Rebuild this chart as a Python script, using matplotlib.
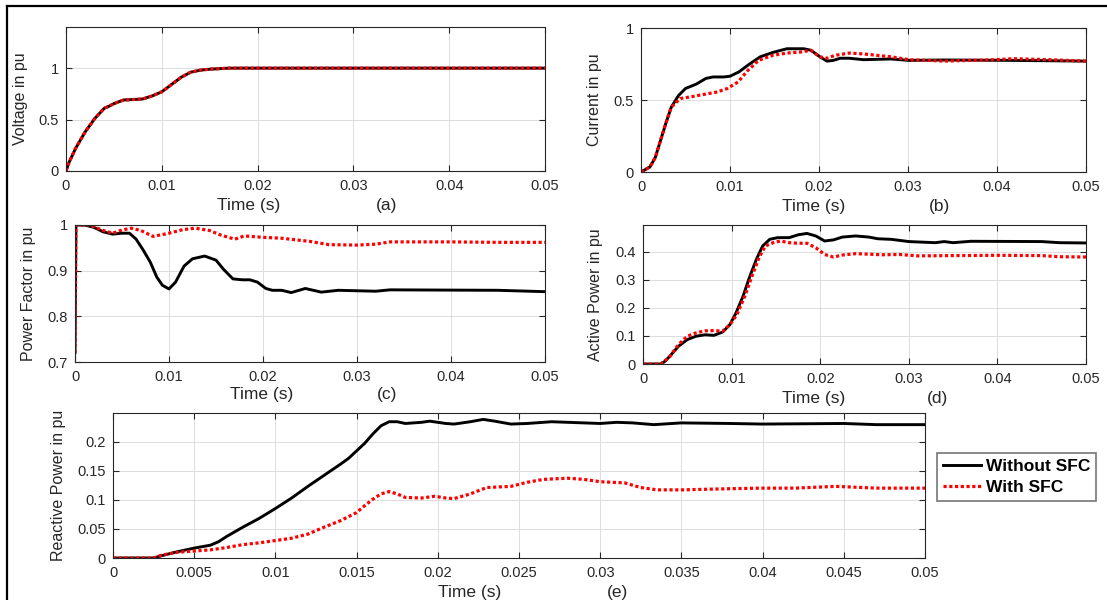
import numpy as np
import matplotlib
matplotlib.use('Agg')
import matplotlib.pyplot as plt
from matplotlib.lines import Line2D

plt.rcParams['font.family'] = ['Liberation Sans', 'DejaVu Sans']

# -- (a) voltage (both cases identical)
t_v = [0, 0.0003, 0.001, 0.002, 0.003, 0.004, 0.0045, 0.005, 0.006, 0.007, 0.008,
       0.009, 0.010, 0.011, 0.012, 0.013, 0.014, 0.015, 0.017, 0.02, 0.03, 0.04, 0.05]
v_wo = [0, 0.08, 0.22, 0.38, 0.51, 0.61, 0.63, 0.655, 0.69, 0.695, 0.70,
        0.73, 0.77, 0.84, 0.91, 0.96, 0.98, 0.99, 1.0, 1.0, 1.0, 1.0, 1.0]
v_w = v_wo

# -- (b) current
t_i_wo = [0, 0.001, 0.0016, 0.0022, 0.0028, 0.0034, 0.0042, 0.005, 0.0062, 0.0073, 0.0081,
          0.0093, 0.010, 0.011, 0.0122, 0.0134, 0.0148, 0.0164, 0.0183, 0.0191, 0.0201,
          0.0209, 0.0216, 0.0224, 0.0234, 0.025, 0.0281, 0.0301, 0.034, 0.0418, 0.05]
i_wo = [0, 0.035, 0.1, 0.22, 0.34, 0.45, 0.53, 0.58, 0.61, 0.65, 0.66,
        0.66, 0.665, 0.695, 0.75, 0.80, 0.83, 0.856, 0.856, 0.845, 0.80,
        0.77, 0.775, 0.79, 0.79, 0.78, 0.785, 0.775, 0.778, 0.775, 0.77]
t_i_w = [0, 0.001, 0.0016, 0.0022, 0.0028, 0.0034, 0.0044, 0.0054, 0.0069, 0.0085, 0.0097,
         0.0109, 0.012, 0.0132, 0.0148, 0.0164, 0.0179, 0.0191, 0.0201, 0.0209, 0.0218,
         0.0234, 0.025, 0.0281, 0.0301, 0.0324, 0.034, 0.0399, 0.0418, 0.0458, 0.05]
i_w = [0, 0.035, 0.1, 0.22, 0.34, 0.45, 0.51, 0.52, 0.537, 0.555, 0.58,
       0.625, 0.705, 0.775, 0.81, 0.826, 0.833, 0.845, 0.80, 0.79, 0.81,
       0.826, 0.82, 0.80, 0.78, 0.775, 0.77, 0.78, 0.787, 0.78, 0.77]

# -- (c) power factor
t_pf_wo = [0, 0.0001, 0.001, 0.002, 0.003, 0.004, 0.005, 0.0058, 0.0065, 0.0072, 0.008,
           0.0087, 0.0093, 0.010, 0.0107, 0.0116, 0.0125, 0.0138, 0.015, 0.0158, 0.0168,
           0.0178, 0.0186, 0.0194, 0.0203, 0.021, 0.022, 0.023, 0.0245, 0.0262, 0.028,
           0.032, 0.0335, 0.045, 0.05]
pf_wo = [0.72, 1.0, 1.0, 0.995, 0.985, 0.98, 0.982, 0.982, 0.969, 0.947, 0.919,
         0.886, 0.868, 0.86, 0.875, 0.91, 0.926, 0.932, 0.923, 0.903, 0.882,
         0.88, 0.88, 0.875, 0.861, 0.857, 0.857, 0.852, 0.861, 0.853, 0.857,
         0.855, 0.858, 0.857, 0.854]
t_pf_w = [0, 0.0001, 0.0015, 0.003, 0.004, 0.005, 0.006, 0.007, 0.0083, 0.010, 0.0115,
          0.0128, 0.0143, 0.0155, 0.017, 0.018, 0.020, 0.022, 0.025, 0.027, 0.030,
          0.032, 0.0335, 0.040, 0.045, 0.05]
pf_w = [0.72, 1.0, 1.0, 0.988, 0.982, 0.989, 0.993, 0.988, 0.975, 0.982, 0.99,
        0.993, 0.988, 0.978, 0.969, 0.976, 0.973, 0.971, 0.964, 0.957, 0.956,
        0.958, 0.963, 0.963, 0.962, 0.962]

# -- (d) active power
t_p_wo = [0, 0.002, 0.0025, 0.003, 0.004, 0.005, 0.006, 0.007, 0.008, 0.009, 0.0098,
          0.0105, 0.0113, 0.012, 0.0128, 0.0135, 0.0143, 0.0152, 0.0165, 0.0175, 0.0185,
          0.0195, 0.0205, 0.0215, 0.0225, 0.024, 0.0255, 0.0265, 0.028, 0.030, 0.033,
          0.034, 0.035, 0.037, 0.045, 0.047, 0.05]
p_wo = [0, 0, 0.01, 0.027, 0.063, 0.087, 0.099, 0.104, 0.102, 0.114, 0.14,
        0.182, 0.242, 0.307, 0.373, 0.42, 0.444, 0.45, 0.45, 0.46, 0.465,
        0.456, 0.438, 0.442, 0.452, 0.456, 0.452, 0.446, 0.444, 0.436, 0.432,
        0.436, 0.432, 0.437, 0.436, 0.432, 0.431]
t_p_w = [0, 0.002, 0.003, 0.004, 0.005, 0.006, 0.007, 0.008, 0.009, 0.0098, 0.0106,
         0.0115, 0.0123, 0.0131, 0.0138, 0.0147, 0.0155, 0.0165, 0.0175, 0.0185, 0.0195,
         0.0205, 0.0215, 0.0225, 0.024, 0.027, 0.029, 0.031, 0.035, 0.040, 0.045,
         0.047, 0.05]
p_w = [0, 0, 0.025, 0.069, 0.099, 0.111, 0.118, 0.119, 0.117, 0.14, 0.176,
       0.242, 0.313, 0.379, 0.42, 0.432, 0.438, 0.432, 0.43, 0.43, 0.414,
       0.39, 0.381, 0.388, 0.393, 0.389, 0.39, 0.385, 0.386, 0.387, 0.386,
       0.382, 0.381]

# -- (e) reactive power
t_q_wo = [0, 0.0025, 0.003, 0.004, 0.005, 0.006, 0.0065, 0.007, 0.0075, 0.008, 0.009,
          0.010, 0.011, 0.012, 0.013, 0.014, 0.0145, 0.015, 0.0155, 0.016, 0.0165,
          0.017, 0.0175, 0.018, 0.019, 0.0195, 0.0205, 0.021, 0.022, 0.0228, 0.0235,
          0.0245, 0.0255, 0.027, 0.028, 0.030, 0.031, 0.032, 0.0333, 0.035, 0.038,
          0.040, 0.045, 0.047, 0.05]
q_wo = [0, 0, 0.004, 0.011, 0.017, 0.022, 0.028, 0.037, 0.045, 0.053, 0.068,
        0.085, 0.103, 0.123, 0.142, 0.161, 0.171, 0.184, 0.197, 0.213, 0.227,
        0.234, 0.234, 0.231, 0.233, 0.235, 0.231, 0.23, 0.234, 0.238, 0.235,
        0.23, 0.231, 0.234, 0.233, 0.231, 0.233, 0.232, 0.229, 0.232, 0.231,
        0.23, 0.231, 0.229, 0.229]
t_q_w = [0, 0.0025, 0.003, 0.004, 0.005, 0.006, 0.007, 0.008, 0.009, 0.010, 0.011,
         0.012, 0.013, 0.014, 0.015, 0.0155, 0.016, 0.0165, 0.017, 0.0175, 0.018,
         0.019, 0.0198, 0.0205, 0.021, 0.022, 0.023, 0.0245, 0.0255, 0.0265, 0.028,
         0.029, 0.030, 0.0315, 0.0325, 0.0335, 0.035, 0.038, 0.040, 0.042, 0.0445,
         0.047, 0.05]
q_w = [0, 0, 0.005, 0.01, 0.012, 0.014, 0.018, 0.023, 0.026, 0.03, 0.034,
       0.041, 0.053, 0.064, 0.078, 0.09, 0.101, 0.11, 0.114, 0.11, 0.104,
       0.103, 0.106, 0.103, 0.102, 0.11, 0.121, 0.123, 0.13, 0.135, 0.137,
       0.135, 0.131, 0.129, 0.121, 0.117, 0.117, 0.119, 0.12, 0.12, 0.123,
       0.12, 0.12]

W, H = 1107, 600
fig = plt.figure(figsize=(W / 100, H / 100), dpi=100)
txtcol = '#262626'


def px(x, y):
    return x / W, 1 - y / H


def make_ax(x0, y0, x1, y1):
    ax = fig.add_axes([x0 / W, 1 - y1 / H, (x1 - x0) / W, (y1 - y0) / H])
    ax.grid(True, color='#dcdcdc', lw=0.7)
    ax.set_axisbelow(True)
    ax.tick_params(direction='in', top=True, right=True, labelsize=10.5,
                   colors=txtcol, length=4, width=0.8)
    ax.tick_params(axis='x', pad=6)
    ax.tick_params(axis='y', pad=5)
    for s in ax.spines.values():
        s.set_color(txtcol)
        s.set_linewidth(0.8)
    return ax


def draw(ax, t1, y1, t2, y2):
    ax.plot(t1, y1, color='black', lw=2.1, label='Without SFC')
    ax.plot(t2, y2, color='red', lw=2.3, ls=(0, (1, 0.8)), label='With SFC')
    ax.set_xlim(0, 0.05)


def ylab(ax, text, xc):
    ax.set_ylabel(text, fontsize=11.5, color=txtcol)
    ax.yaxis.set_label_coords(xc, 0.5)


def xlab(x_time, x_tag, y, tag):
    fig.text(*px(x_time, y), 'Time (s)', fontsize=12.5, ha='center', va='center', color=txtcol)
    fig.text(*px(x_tag, y), tag, fontsize=12.5, ha='center', va='center', color=txtcol)


xt = [0, 0.01, 0.02, 0.03, 0.04, 0.05]
xtl = ['0', '0.01', '0.02', '0.03', '0.04', '0.05']

# (a)
ax = make_ax(66, 27, 545, 171)
draw(ax, t_v, v_wo, t_v, v_w)
ax.set_ylim(0, 1.4)
ax.set_yticks([0, 0.5, 1])
ax.set_yticklabels(['0', '0.5', '1'])
ax.set_xticks(xt)
ax.set_xticklabels(xtl)
ylab(ax, 'Voltage in pu', -0.079)
xlab(249, 387, 206, '(a)')

# (b)
ax = make_ax(641, 28, 1086, 172)
draw(ax, t_i_wo, i_wo, t_i_w, i_w)
ax.set_ylim(0, 1)
ax.set_yticks([0, 0.5, 1])
ax.set_yticklabels(['0', '0.5', '1'])
ax.set_xticks(xt)
ax.set_xticklabels(xtl)
ylab(ax, 'Current in pu', -0.088)
xlab(814, 940, 207, '(b)')

# (c)
ax = make_ax(75, 225, 545, 362)
draw(ax, t_pf_wo, pf_wo, t_pf_w, pf_w)
ax.set_ylim(0.7, 1)
ax.set_yticks([0.7, 0.8, 0.9, 1])
ax.set_yticklabels(['0.7', '0.8', '0.9', '1'])
ax.set_xticks(xt)
ax.set_xticklabels(xtl)
ylab(ax, 'Power Factor in pu', -0.083)
xlab(262, 387, 395, '(c)')

# (d)
ax = make_ax(643, 225, 1086, 364)
draw(ax, t_p_wo, p_wo, t_p_w, p_w)
ax.set_ylim(0, 0.495)
ax.set_yticks([0, 0.1, 0.2, 0.3, 0.4])
ax.set_yticklabels(['0', '0.1', '0.2', '0.3', '0.4'])
ax.set_xticks(xt)
ax.set_xticklabels(xtl)
ylab(ax, 'Active Power in pu', -0.090)
xlab(814, 937, 398, '(d)')

# (e)
ax = make_ax(113, 413, 925, 558)
draw(ax, t_q_wo, q_wo, t_q_w, q_w)
ax.set_ylim(0, 0.249)
ax.set_yticks([0, 0.05, 0.1, 0.15, 0.2])
ax.set_yticklabels(['0', '0.05', '0.1', '0.15', '0.2'])
ax.set_xticks(np.arange(0, 0.0501, 0.005))
ax.set_xticklabels(['0', '0.005', '0.01', '0.015', '0.02', '0.025',
                    '0.03', '0.035', '0.04', '0.045', '0.05'])
ylab(ax, 'Reactive Power in pu', -0.058)
xlab(470, 617, 592, '(e)')

leg = ax.legend(loc='upper left', bbox_to_anchor=px(937, 453), bbox_transform=fig.transFigure,
                prop={'weight': 'bold', 'size': 12.5}, frameon=True, fancybox=False,
                handlelength=2.2, handletextpad=0.25, borderpad=0.35, labelspacing=0.3,
                borderaxespad=0)
leg.get_frame().set_edgecolor('#555555')
leg.get_frame().set_linewidth(1.2)

# outer frame of the composite figure
fig.add_artist(Line2D([7 / W, 7 / W], [0, 1 - 6 / H], color='black', lw=1.6, transform=fig.transFigure))
fig.add_artist(Line2D([7 / W, 1], [1 - 6 / H, 1 - 6 / H], color='black', lw=1.6, transform=fig.transFigure))

fig.savefig('out.png', dpi=100)
